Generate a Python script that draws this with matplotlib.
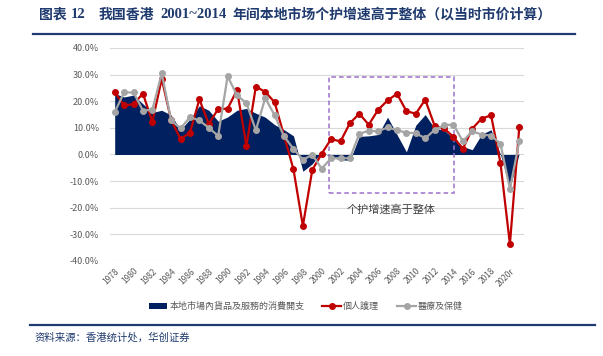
import numpy as np
import matplotlib
matplotlib.use('Agg')
import matplotlib.pyplot as plt
from matplotlib.patches import Rectangle
from matplotlib.lines import Line2D
from matplotlib.ticker import FuncFormatter

plt.rcParams['font.family'] = ['Noto Sans CJK SC', 'DejaVu Sans']

years = list(range(1978, 2022))
tick_years = years[::2]
tick_labels = ['2020r' if y == 2020 else str(y) for y in tick_years]

# 本地市场内货品及服务的消费开支 (%)
local_total = [22.9, 21.6, 22.3, 19.0, 15.8, 16.6, 14.8, 9.3, 13.3, 18.3,
               16.6, 12.5, 14.1, 16.6, 17.3, 15.5, 14.0, 11.2, 9.3, 7.0,
               -6.3, -3.5, 1.0, -1.0, -2.0, -2.2, 6.8, 7.0, 7.5, 14.0,
               7.5, 1.0, 11.0, 15.0, 9.8, 9.2, 6.0, 3.0, 1.8, 7.6,
               9.3, 0.0, -12.6, 0.5]
# 个人护理 (%)
personal_care = [23.4, 18.4, 18.9, 22.9, 12.2, 28.4, 12.9, 5.8, 8.2, 20.7,
                 11.5, 17.1, 17.2, 24.2, 3.3, 25.5, 23.5, 19.6, 7.0, -5.6,
                 -26.8, -5.8, 0.3, 5.8, 4.9, 11.8, 15.3, 11.2, 16.8, 20.3,
                 22.8, 16.3, 15.3, 20.6, 10.8, 9.8, 6.6, 2.1, 9.7, 13.5,
                 14.7, -3.2, -33.7, 10.3]
# 医疗及保健 (%)
health = [15.9, 23.3, 23.3, 16.5, 16.8, 30.5, 12.8, 9.8, 14.0, 12.8,
          10.0, 7.0, 29.4, 22.2, 19.3, 9.1, 21.2, 14.7, 6.8, 2.1,
          -2.0, -0.1, -5.3, -1.4, -1.4, -1.4, 7.8, 8.9, 8.7, 10.2,
          9.1, 8.2, 8.0, 6.1, 9.2, 11.0, 11.2, 5.0, 8.7, 7.5,
          7.1, 4.0, -12.9, 4.9]

navy = '#002060'
red = '#c00000'
grey = '#a5a5a5'
txt = '#595959'
title_c = '#1f3a6e'

fig = plt.figure(figsize=(6.03, 3.56), dpi=100)
ax = fig.add_axes([0.1824, 0.2669, 0.6866, 0.5983])

x = np.arange(len(years))
ax.fill_between(x, 0, local_total, color=navy, lw=0, label='本地市場內貨品及服務的消費開支')
ax.plot(x, personal_care, color=red, lw=1.6, marker='o', ms=4, label='個人護理')
ax.plot(x, health, color=grey, lw=1.6, marker='o', ms=4, label='醫療及保健')

ax.set_xlim(-0.5, len(years) - 0.5)
ax.set_ylim(-40, 40)
ax.set_yticks(range(-40, 41, 10))
ax.yaxis.set_major_formatter(FuncFormatter(lambda v, p: f'{v:.1f}%'))
ax.set_xticks([years.index(y) for y in tick_years])
ax.set_xticklabels(tick_labels, rotation=45, ha='right', rotation_mode='anchor')
ax.tick_params(length=0, labelsize=6.5, colors=txt, pad=8)
ax.tick_params(axis='x', labelsize=6, pad=4)
ax.grid(axis='y', color='#d9d9d9', lw=0.8)
ax.set_axisbelow(True)
for s in ax.spines.values():
    s.set_visible(False)

# 2001~2014 highlight box
box_x0 = 22.8
box_x1 = 36.1
ax.add_patch(Rectangle((box_x0, -14.5), box_x1 - box_x0, 43.5, fill=False,
                       ec='#9b72c9', lw=1.1, ls=(0, (3, 2)), clip_on=False))
ax.text(29.4, -20.8, '个护增速高于整体', ha='center', va='center',
        fontsize=8, color='#404040')

leg = fig.legend(loc='center', bbox_to_anchor=(0.507, 0.14), ncol=3, frameon=False,
                 prop={'family': ['Noto Sans CJK TC', 'DejaVu Sans'], 'size': 6.5},
                 handlelength=2.1, handletextpad=0.2, columnspacing=2.0)
for t in leg.get_texts():
    t.set_color(txt)

# title, placed piece by piece
title_parts = [(38.6, '图表', 'cjk'), (71, '12', 'latin'), (99, '我国香港', 'cjk'),
               (160, '2001~2014', 'latin'), (232, '年间本地市场个护增速高于整体（以当时市价计算）', 'cjk')]
for px, s, kind in title_parts:
    if kind == 'latin':
        fig.text(px / 603, 0.958, s, fontsize=10.5, fontweight='bold', color=title_c,
                 family='Liberation Serif', va='center', ha='left')
    else:
        fig.text(px / 603, 0.958, s, fontsize=10, fontweight='bold', color=title_c,
                 va='center', ha='left')
fig.add_artist(Line2D([0.055, 0.953], [0.905, 0.905], color=title_c, lw=1.6))
fig.add_artist(Line2D([0.05, 0.987], [0.087, 0.087], color=title_c, lw=1.6))
fig.text(0.058, 0.052, '资料来源：香港统计处，华创证券', fontsize=7.5, color=title_c,
         style='italic', va='center', ha='left')

fig.savefig('out.png', dpi=100)
